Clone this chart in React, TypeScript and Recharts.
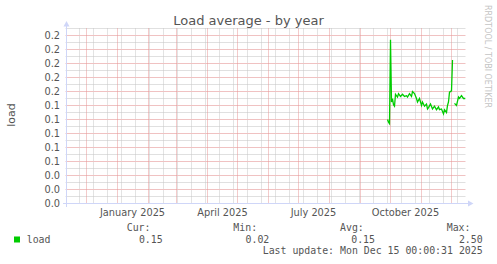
import React from "react";
import { LineChart, Line, XAxis, YAxis, CartesianGrid } from "recharts";

const START = Date.UTC(2024, 10, 10);
const END = Date.UTC(2025, 11, 15);

// Load average series (daily-ish samples)
const loadDates = [
  "2025-09-28", "2025-09-29", "2025-09-30", "2025-10-01", "2025-10-02", "2025-10-03",
  "2025-10-04", "2025-10-05", "2025-10-06", "2025-10-08", "2025-10-09", "2025-10-11",
  "2025-10-13", "2025-10-15", "2025-10-17", "2025-10-18", "2025-10-20", "2025-10-22",
  "2025-10-23", "2025-10-25", "2025-10-27", "2025-10-28", "2025-10-30", "2025-11-01",
  "2025-11-02", "2025-11-04", "2025-11-06", "2025-11-07", "2025-11-08", "2025-11-10",
  "2025-11-12", "2025-11-14", "2025-11-16", "2025-11-18", "2025-11-19", "2025-11-21",
  "2025-11-23", "2025-11-24", "2025-11-26", "2025-11-27", "2025-11-28", "2025-11-29",
  "2025-12-01", "2025-12-02", "2025-12-03", "2025-12-04", "2025-12-06", "2025-12-08",
  "2025-12-09", "2025-12-11", "2025-12-13", "2025-12-14", "2025-12-15",
];
const loadValues: (number | null)[] = [
  0.120, 0.116, 0.114, 0.234, 0.145, 0.150,
  0.141, 0.139, 0.156, 0.152, 0.157, 0.153,
  0.156, 0.153, 0.154, 0.152, 0.157, 0.153,
  0.160, 0.157, 0.150, 0.145, 0.150, 0.140,
  0.145, 0.139, 0.142, 0.135, 0.137, 0.142,
  0.135, 0.139, 0.134, 0.138, 0.134, 0.135,
  0.128, 0.134, 0.130, 0.140, 0.145, 0.159,
  0.161, 0.205, null, 0.143, 0.140, 0.152,
  0.150, 0.154, 0.150, 0.150, 0.150,
];

// Axis / grid definitions
const monthStarts = [
  "2024-12-01", "2025-01-01", "2025-02-01", "2025-03-01", "2025-04-01", "2025-05-01",
  "2025-06-01", "2025-07-01", "2025-08-01", "2025-09-01", "2025-10-01", "2025-11-01",
  "2025-12-01",
];
const minorGridDates = [
  "2024-11-24", "2024-12-08", "2024-12-22", "2025-01-05", "2025-01-19", "2025-02-02",
  "2025-02-16", "2025-03-02", "2025-03-16", "2025-03-30", "2025-04-13", "2025-04-27",
  "2025-05-11", "2025-05-25", "2025-06-08", "2025-06-22", "2025-07-06", "2025-07-20",
  "2025-08-03", "2025-08-17", "2025-08-31", "2025-09-14", "2025-09-28", "2025-10-12",
  "2025-10-26", "2025-11-09", "2025-11-23", "2025-12-07",
];
const xLabelDates = ["2025-01-16", "2025-04-16", "2025-07-16", "2025-10-16"];
const xLabels = ["January 2025", "April 2025", "July 2025", "October 2025"];
const yTicks = [0, 0.02, 0.04, 0.06, 0.08, 0.1, 0.12, 0.14, 0.16, 0.18, 0.2, 0.22, 0.24];
const yMinor = [0.01, 0.03, 0.05, 0.07, 0.09, 0.11, 0.13, 0.15, 0.17, 0.19, 0.21, 0.23, 0.25];

const legendHeaders = ["Cur:", "Min:", "Avg:", "Max:"];
const legendValues = ["0.15", "0.02", "0.15", "2.50"];
const lastUpdate = "Last update: Mon Dec 15 00:00:31 2025";

const toT = (s: string) => Date.parse(s + "T00:00:00Z");

const data = loadDates.map((d, i) => ({ t: toT(d), load: loadValues[i] }));
const labelTicks = xLabelDates.map(toT);
const monthTicks = monthStarts.map(toT);
const minorTicks = minorGridDates.map(toT);
const labelFor = (t: number) => {
  const i = labelTicks.indexOf(t);
  return i >= 0 ? xLabels[i] : "";
};

const MAJOR = "#e69696";
const MINOR = "#c6c6c6";
const MAJOR_H = "#f0c2c2";
const MINOR_H = "#e0e0e0";
const AXIS = "#cfd6f8";
const TEXT = "#555555";
const SANS = "'DejaVu Sans', sans-serif";
const MONO = "'DejaVu Sans Mono', monospace";

const headerStarts = [126.7, 233.3, 340, 446.7];
const valueEnds = [162.7, 269.3, 375, 482.7];

const crispCss = ".hgrid line { shape-rendering: crispEdges; }";

export default function App() {
  return (
    <div style={{ position: "absolute", left: 0, top: 0, width: 497, height: 264, background: "#ffffff" }}>
      <style>{crispCss}</style>
      <LineChart
        width={497}
        height={264}
        data={data}
        margin={{ top: 28.5, right: 31.5, bottom: 30.5, left: 0 }}
      >
        <XAxis
          dataKey="t"
          type="number"
          domain={[START, END]}
          allowDataOverflow
          ticks={labelTicks}
          tickFormatter={labelFor}
          axisLine={false}
          tickLine={false}
          tickSize={0}
          tickMargin={5.5}
          height={30}
          interval={0}
          tick={{ fill: TEXT, fontSize: 9.8, fontFamily: SANS }}
        />
        <XAxis xAxisId="monthX" dataKey="t" type="number" domain={[START, END]} allowDataOverflow ticks={monthTicks} interval={0} hide />
        <XAxis xAxisId="minorX" dataKey="t" type="number" domain={[START, END]} allowDataOverflow ticks={minorTicks} interval={0} hide />
        <YAxis
          type="number"
          domain={[0, 0.25]}
          allowDataOverflow
          ticks={yTicks}
          interval={0}
          tickFormatter={(v: number) => v.toFixed(1)}
          axisLine={false}
          tickLine={false}
          tickSize={0}
          tickMargin={5.5}
          width={65.5}
          tick={{ fill: TEXT, fontSize: 9.8, fontFamily: SANS }}
        />
        <YAxis yAxisId="minorY" type="number" domain={[0, 0.25]} allowDataOverflow ticks={yMinor} interval={0} hide />
        <CartesianGrid
          className="hgrid"
          yAxisId="minorY"
          vertical={false}
          horizontalValues={yMinor}
          stroke={MINOR_H}
          strokeWidth={1}
        />
        <CartesianGrid
          xAxisId="minorX"
          horizontal={false}
          verticalValues={minorTicks}
          stroke={MINOR}
          strokeDasharray="1 1"
        />
        <CartesianGrid
          className="hgrid"
          vertical={false}
          horizontalValues={yTicks}
          stroke={MAJOR_H}
          strokeWidth={1}
        />
        <CartesianGrid
          xAxisId="monthX"
          horizontal={false}
          verticalValues={monthTicks}
          stroke={MAJOR}
          strokeDasharray="1 1"
        />
        <Line
          type="linear"
          dataKey="load"
          stroke="#00cc00"
          strokeWidth={1.3}
          dot={false}
          activeDot={false}
          connectNulls={false}
          isAnimationActive={false}
        />
      </LineChart>
      <svg
        width={497}
        height={264}
        style={{ position: "absolute", left: 0, top: 0, pointerEvents: "none" }}
      >
        <line x1={66.5} y1={207} x2={66.5} y2={25} stroke={AXIS} strokeWidth={1} />
        <line x1={63} y1={203.5} x2={469} y2={203.5} stroke={AXIS} strokeWidth={1} />
        <polygon points="66.5,21 63.5,26.5 69.5,26.5" fill={AXIS} />
        <polygon points="473.5,203.5 468,200.5 468,206.5" fill={AXIS} />
        <text x={248.5} y={24.5} textAnchor="middle" fontSize={13} fontFamily={SANS} fill={TEXT}>
          Load average - by year
        </text>
        <text
          x={15}
          y={115}
          transform="rotate(-90, 15, 115)"
          textAnchor="middle"
          fontSize={11}
          fontFamily={SANS}
          fill={TEXT}
        >
          load
        </text>
        <text
          x={485}
          y={5}
          transform="rotate(90, 485, 5)"
          textAnchor="start"
          fontSize={8}
          fontFamily={SANS}
          fill="#c4c4c4"
        >
          RRDTOOL / TOBI OETIKER
        </text>
        <rect x={14} y={236.5} width={6} height={6} fill="#00cc00" />
        <text x={26.7} y={243} fontSize={9.9} fontFamily={MONO} fill={TEXT}>
          load
        </text>
        {legendHeaders.map((h, i) => (
          <text key={h} x={headerStarts[i]} y={231.3} fontSize={9.9} fontFamily={MONO} fill={TEXT}>
            {h}
          </text>
        ))}
        {legendValues.map((v, i) => (
          <text key={"v" + i} x={valueEnds[i]} y={243} textAnchor="end" fontSize={9.9} fontFamily={MONO} fill={TEXT}>
            {v}
          </text>
        ))}
        <text x={482.7} y={254} textAnchor="end" fontSize={9.9} fontFamily={MONO} fill={TEXT}>
          {lastUpdate}
        </text>
      </svg>
    </div>
  );
}
